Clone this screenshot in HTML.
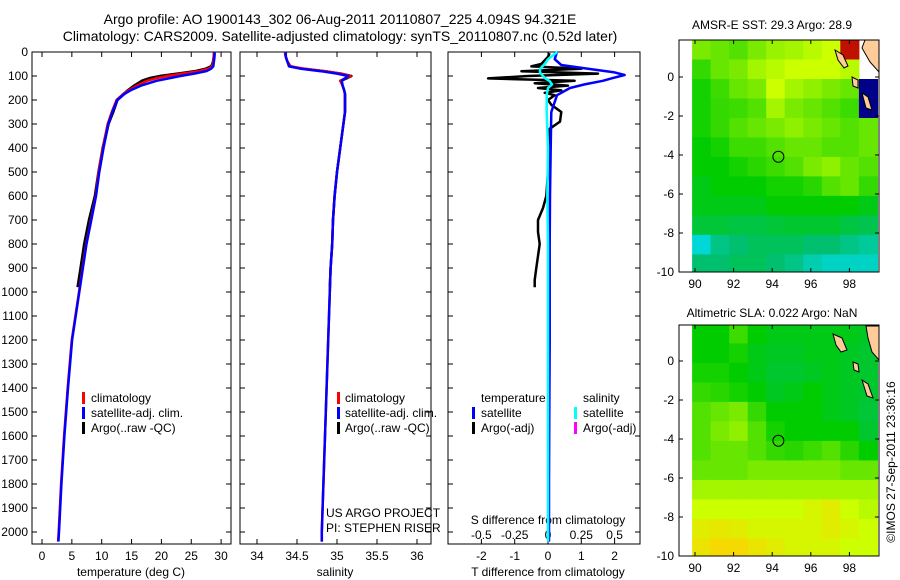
<!DOCTYPE html>
<html><head><meta charset="utf-8"><style>
body{margin:0;background:#fff;}
svg{display:block;font-family:"Liberation Sans",sans-serif;}
</style></head><body>
<svg id="c" width="900" height="580" xmlns="http://www.w3.org/2000/svg">
<text x="340" y="24" font-size="14" text-anchor="middle">Argo profile: AO 1900143_302 06-Aug-2011 20110807_225 4.094S 94.321E</text>
<text x="340" y="41" font-size="14" text-anchor="middle">Climatology: CARS2009. Satellite-adjusted climatology: synTS_20110807.nc (0.52d later)</text>
<text x="772" y="29" font-size="12" text-anchor="middle">AMSR-E SST: 29.3 Argo: 28.9</text>
<text x="772" y="317" font-size="12" text-anchor="middle">Altimetric SLA: 0.022 Argo: NaN</text>
<text transform="translate(895,462) rotate(-90)" font-size="12" text-anchor="middle">©IMOS 27-Sep-2011 23:36:16</text>
<g id="g"></g>
</svg>
<script>
// ---- data ----
const depths = [0,20,40,60,70,80,90,100,110,120,140,160,175,200,250,300,400,500,600,700,800,900,1000,1200,1400,1600,1800,2000,2040];
const tempClim = [28.8,28.8,28.7,28.5,27.8,26.3,23.5,21.0,19.0,17.6,15.9,14.5,13.6,12.5,11.7,11.0,10.2,9.5,9.0,8.2,7.4,6.8,6.2,5.0,4.3,3.7,3.2,2.8,2.7];
const tempSat  = [28.9,28.9,28.8,28.7,28.3,27.5,25.5,23.2,21.2,19.2,16.6,14.8,13.8,12.6,11.8,11.1,10.3,9.6,9.05,8.25,7.45,6.85,6.25,5.05,4.35,3.75,3.25,2.85,2.75];
const argoDepths = [5,20,40,60,70,80,90,100,110,120,140,160,175,200,250,300,400,500,600,700,800,900,980];
const tempArgo = [28.9,28.8,28.7,28.4,27.5,25.8,23.0,20.0,18.0,16.8,15.5,14.4,13.7,12.6,11.9,11.1,10.2,9.5,8.9,7.9,7.1,6.5,6.0];
const salClim = [34.35,34.36,34.38,34.42,34.6,34.85,35.05,35.17,35.1,35.04,35.07,35.09,35.1,35.1,35.1,35.08,35.04,35.0,34.97,34.95,34.94,34.92,34.91,34.89,34.87,34.85,34.83,34.81,34.81];
const salSat  = [34.36,34.36,34.38,34.4,34.55,34.8,35.0,35.14,35.1,35.06,35.07,35.09,35.1,35.1,35.1,35.08,35.04,35.0,34.97,34.95,34.94,34.92,34.91,34.89,34.87,34.85,34.83,34.81,34.81];
const salArgo = [34.35,34.36,34.38,34.42,34.58,34.85,35.05,35.18,35.12,35.05,35.07,35.09,35.1,35.1,35.1,35.08,35.04,35.0,34.97,34.95,34.94,34.92,34.91];
const diffDepths = [0,30,54,70,85,96,110,120,135,150,180,250,400,600,800,1000,1200,1500,1800,2000,2040];
const tDiffSat = [0.27,0.2,0.4,1.2,2.0,2.3,1.9,1.65,1.1,0.66,0.27,0.1,0.08,0.06,0.05,0.05,0.05,0.04,0.03,0.03,0.03];
const sDiffSat = [0.07,0.0,-0.03,-0.06,-0.06,-0.045,-0.02,0.01,0.03,0.0,-0.01,-0.01,0.0,-0.005,0.0,0.0,0.0,0.0,0.0,0.0,0.0];
const argoDiffDepths = [5,20,35,50,60,70,80,90,100,110,120,130,140,150,160,170,180,200,220,250,290,320,350,400,500,600,650,700,750,800,850,900,950,980];
const tDiffArgo = [0.05,0.0,-0.1,-0.2,-0.5,1.0,-0.8,1.5,-0.6,-1.8,0.8,-0.4,0.6,-0.3,0.4,-0.1,0.2,0.0,0.1,0.4,0.36,0.05,0.05,0.02,0.0,-0.05,-0.15,-0.3,-0.3,-0.25,-0.3,-0.35,-0.4,-0.4];
const depthTicks = [0,100,200,300,400,500,600,700,800,900,1000,1100,1200,1300,1400,1500,1600,1700,1800,1900,2000];
const tempTicks = [0,5,10,15,20,25,30];
const salTicks = [34,34.5,35,35.5,36];
const salTickLabels = ["34","34.5","35","35.5","36"];
const tdTicks = [-2,-1,0,1,2];
const sdTicks = [-0.5,-0.25,0,0.25,0.5];
const sdTickLabels = ["-0.5","-0.25","0","0.25","0.5"];
const lonTicks = [90,92,94,96,98];
const latTicks = [0,-2,-4,-6,-8,-10];
const sstGrid = [
[.62,.60,.58,.62,.65,.66,.68,.70,.90,-1],
[.55,.60,.62,.66,.68,.70,.70,.70,.68,-1],
[.52,.56,.60,.62,.70,.66,.64,.62,.60,-2],
[.52,.55,.56,.58,.66,.62,.60,.58,.56,-2],
[.52,.55,.58,.60,.62,.64,.62,.60,.58,.60],
[.50,.52,.56,.56,.58,.60,.60,.58,.58,.60],
[.50,.50,.52,.54,.56,.58,.62,.64,.60,.58],
[.48,.50,.50,.50,.52,.52,.54,.58,.60,.55],
[.48,.48,.48,.48,.50,.50,.50,.50,.50,.48],
[.45,.45,.44,.44,.45,.46,.46,.46,.44,.43],
[.30,.38,.40,.42,.42,.42,.40,.40,.38,.36],
[.40,.40,.42,.42,.40,.38,.34,.32,.32,.32]];
const slaGrid = [
[.50,.50,.56,.50,.48,.48,.48,.48,.48,.47],
[.50,.50,.52,.48,.47,.47,.48,.48,.47,.46],
[.52,.52,.50,.48,.46,.46,.47,.48,.47,.46],
[.55,.54,.52,.50,.47,.48,.50,.48,.47,.46],
[.58,.60,.62,.55,.50,.50,.50,.48,.47,.45],
[.58,.62,.64,.58,.52,.50,.50,.50,.50,.46],
[.58,.60,.60,.58,.55,.54,.56,.58,.54,.50],
[.60,.60,.60,.62,.62,.62,.62,.62,.60,.60],
[.66,.66,.66,.66,.66,.66,.66,.66,.66,.66],
[.70,.70,.70,.70,.70,.70,.72,.74,.70,.68],
[.74,.75,.74,.72,.72,.72,.72,.74,.72,.70],
[.76,.78,.78,.76,.74,.72,.72,.72,.70,.70]];
const argoLon = 94.32, argoLat = -4.09;

// ---- helpers ----
const NS="http://www.w3.org/2000/svg";
const G=document.getElementById('g');
function el(t,a,p){const e=document.createElementNS(NS,t);for(const k in a)e.setAttribute(k,a[k]);(p||G).appendChild(e);return e;}
function txt(x,y,s,anchor,size,name){const t=el('text',{x:x,y:y,'font-size':size||12,'text-anchor':anchor||'start'});t.textContent=s;


return t;}
const Y0=52, Y1=544;
const yD=d=>Y0+d*0.24;
const P1=[32,231],P2=[240,431],P3=[448,640];
const xT=v=>42+v*5.97;
const xS=v=>257+(v-34)*80;
const xTD=v=>548+v*33.3;
const xSD=v=>548+v*133.2;

function frame(p,name){
 const r=el('rect',{x:p[0],y:Y0,width:p[1]-p[0],height:Y1-Y0,fill:'none',stroke:'#000','stroke-width':1});
 
 
 depthTicks.forEach(d=>{const y=yD(d);
  el('line',{x1:p[0],x2:p[0]+5,y1:y,y2:y,stroke:'#000'});
  el('line',{x1:p[1],x2:p[1]-5,y1:y,y2:y,stroke:'#000'});});
}
function xticks(vals,labels,fx,top,bot,ly,name){
 vals.forEach((v,i)=>{const x=fx(v);
  if(bot) el('line',{x1:x,x2:x,y1:Y1,y2:Y1-5,stroke:'#000'});
  if(top) el('line',{x1:x,x2:x,y1:Y0,y2:Y0+5,stroke:'#000'});
  txt(x,ly,labels[i],'middle',12,name);});
}
function line(xs,ds,fx,color,w,name,dash){
 const pts=xs.map((v,i)=>fx(v).toFixed(1)+','+yD(ds[i]).toFixed(1)).join(' ');
 const a={points:pts,fill:'none',stroke:color,'stroke-width':w,'stroke-linejoin':'round'};
 if(dash)a['stroke-dasharray']=dash;
 const l=el('polyline',a);
 
 
}
function legMark(x,y,color,name){const r=el('rect',{x:x,y:y-10,width:3,height:12,fill:color});
 
 }

// panel 1 temperature
frame(P1,'temperature-panel');
depthTicks.forEach(d=>txt(28,yD(d)+4,String(d),'end',12,'depth-tick-label'));
xticks(tempTicks,tempTicks.map(String),xT,true,true,560,'temp-tick-label');
txt(131,576,'temperature (deg C)','middle',12,'x-axis-title-temperature');
line(tempArgo,argoDepths,xT,'#000',3,'temp-argo-line');
line(tempClim,depths,xT,'#f00',2.5,'temp-climatology-line');
line(tempSat,depths,xT,'#00f',2.5,'temp-satellite-line');
legMark(82,402,'#f00','legend-climatology-marker');txt(91,402,'climatology','start',12,'legend-climatology');
legMark(82,417,'#00f','legend-satellite-marker');txt(91,417,'satellite-adj. clim.','start',12,'legend-satellite');
legMark(82,432,'#000','legend-argo-marker');txt(91,432,'Argo(..raw -QC)','start',12,'legend-argo');

// panel 2 salinity
frame(P2,'salinity-panel');
xticks(salTicks,salTickLabels,xS,true,true,560,'sal-tick-label');
txt(335,576,'salinity','middle',12,'x-axis-title-salinity');
line(salArgo,argoDepths,xS,'#000',2.5,'sal-argo-line');
line(salClim,depths,xS,'#f00',2.5,'sal-climatology-line');
line(salSat,depths,xS,'#00f',2.5,'sal-satellite-line');
legMark(337,402,'#f00','legend-climatology-marker');txt(345,402,'climatology','start',12,'legend-climatology');
legMark(337,417,'#00f','legend-satellite-marker');txt(345,417,'satellite-adj. clim.','start',12,'legend-satellite');
legMark(337,432,'#000','legend-argo-marker');txt(345,432,'Argo(..raw -QC)','start',12,'legend-argo');
txt(326,517,'US ARGO PROJECT','start',12,'project-label');
txt(326,532,'PI: STEPHEN RISER','start',12,'pi-label');

// panel 3 differences
frame(P3,'difference-panel');
tdTicks.forEach(v=>{const x=xTD(v);el('line',{x1:x,x2:x,y1:Y1,y2:Y1-5,stroke:'#000'});el('line',{x1:x,x2:x,y1:Y0,y2:Y0+5,stroke:'#000'});txt(x,560,String(v),'middle',12,'tdiff-tick-label');});
sdTicks.forEach((v,i)=>txt(xSD(v),539,sdTickLabels[i],'middle',12,'sdiff-tick-label'));
txt(548,524,'S difference from climatology','middle',12,'s-diff-axis-title');
txt(548,576,'T difference from climatology','middle',12,'t-diff-axis-title');
line(tDiffArgo,argoDiffDepths,xTD,'#000',2.5,'tdiff-argo-line');
line(tDiffSat,diffDepths,xTD,'#00f',2.5,'tdiff-satellite-line');
line(sDiffSat,diffDepths,xSD,'#0ff',2.5,'sdiff-satellite-line');
txt(481,402,'temperature','start',12,'legend-temperature-header');
txt(583,402,'salinity','start',12,'legend-salinity-header');
legMark(472,417,'#00f','legend-t-satellite-marker');txt(481,417,'satellite','start',12,'legend-t-satellite');
legMark(472,432,'#000','legend-t-argo-marker');txt(481,432,'Argo(-adj)','start',12,'legend-t-argo');
legMark(574,417,'#0ff','legend-s-satellite-marker');txt(583,417,'satellite','start',12,'legend-s-satellite');
legMark(574,432,'#f0f','legend-s-argo-marker');txt(583,432,'Argo(-adj)','start',12,'legend-s-argo');

// maps
const stops=[[0,[0,0,140]],[.15,[0,128,255]],[.3,[0,216,216]],[.4,[0,192,112]],[.5,[0,204,0]],[.6,[102,230,0]],[.7,[204,255,0]],[.8,[255,208,0]],[.9,[192,16,0]]];
function col(t){if(t===-2)return '#000088';for(let i=1;i<stops.length;i++){if(t<=stops[i][0]){const a=stops[i-1],b=stops[i],f=(t-a[0])/(b[0]-a[0]);return 'rgb('+a[1].map((c,k)=>Math.round(c+(b[1][k]-c)*f)).join(',')+')';}}return 'rgb(192,16,0)';}
const MX0=679,MX1=879;
const mX=lon=>695+(lon-90)*19.3;
function drawMap(grid,top,y0,name,land){
 const mY=lat=>y0-lat*19.5;
 const bot=mY(-10);
 const cid='clip'+name;
 const cp=el('clipPath',{id:cid});el('rect',{x:MX0,y:top,width:MX1-MX0,height:bot-top},cp);
 const g=el('g',{'clip-path':'url(#'+cid+')'});
 
 
 grid.forEach((row,r)=>row.forEach((v,c)=>{if(v===-1)return;
  const lon=89.85+c*0.96, lat=1.9-r;
  const x=mX(lon), y=mY(lat);
  const cell=el('rect',{x:x.toFixed(1),y:y.toFixed(1),width:(0.96*19.3+0.6).toFixed(1),height:(19.5+0.6).toFixed(1),fill:col(v)},g);
  
  
 }));
 land(g,mY);
 const fr=el('rect',{x:MX0,y:top,width:MX1-MX0,height:bot-top,fill:'none',stroke:'#000'});
 
 
 lonTicks.forEach(v=>{const x=mX(v);el('line',{x1:x,x2:x,y1:bot,y2:bot-4,stroke:'#000'});el('line',{x1:x,x2:x,y1:top,y2:top+4,stroke:'#000'});txt(x,bot+16,String(v),'middle',12,'lon-tick-label');});
 latTicks.forEach(v=>{const y=mY(v);el('line',{x1:MX0,x2:MX0+4,y1:y,y2:y,stroke:'#000'});el('line',{x1:MX1,x2:MX1-4,y1:y,y2:y,stroke:'#000'});txt(674,y+4,String(v),'end',12,'lat-tick-label');});
 const m=el('circle',{cx:mX(argoLon),cy:mY(argoLat),r:5.5,fill:'none',stroke:'#000'});
 
 
}
function landCommon(g,mY){
 const L=[[[865,40],[879,40],[879,72],[870,62],[862,48]],[[835,50],[843,55],[848,66],[844,68],[838,60]],[[852,77],[858,80],[858,88],[853,86]],[[862,93],[868,97],[872,110],[866,108]]];
 L.forEach(p=>{const pl=el('polygon',{points:p.map(q=>q.join(',')).join(' '),fill:'#ffcc99',stroke:'#000','stroke-width':1},g);
  
  });
}
drawMap(sstGrid,40,77,'sst-map',(g,mY)=>landCommon(g,mY));
drawMap(slaGrid,325,361,'sla-map',(g,mY)=>{
 const L=[[[866,326],[879,326],[879,360],[872,352],[868,338]],[[833,334],[842,338],[847,350],[841,352],[836,345]],[[853,362],[858,364],[859,372],[854,370]],[[862,380],[868,384],[873,398],[867,396]]];
 L.forEach(p=>{const pl=el('polygon',{points:p.map(q=>q.join(',')).join(' '),fill:'#ffcc99',stroke:'#000','stroke-width':1},g);
  
  });
});
</script>
</body></html>
